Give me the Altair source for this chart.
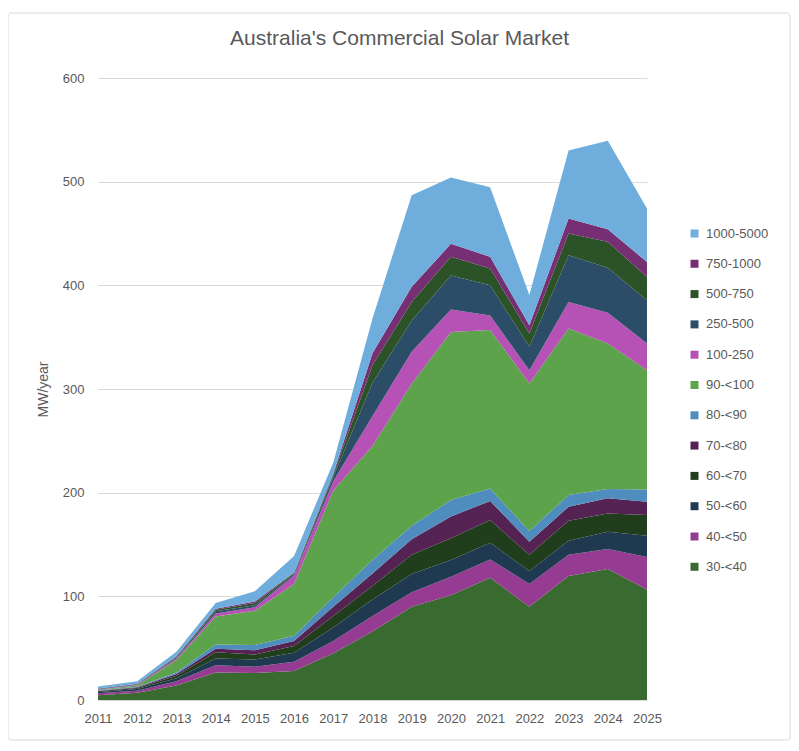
import pandas as pd
import altair as alt

# data, MW/year per system size band (kW)
years = list(range(2011, 2026))

s30_40 = [4.5, 7, 14, 26.5, 26, 28, 45, 66, 90, 101, 118, 90, 119.6, 126.3, 106.7]
s40_50 = [2, 2, 4, 7, 6, 9, 12, 15, 14, 18, 17.6, 22, 20.4, 19.3, 31.3]
s50_60 = [1.2, 1.5, 3, 6.5, 7, 8.6, 13, 16, 17.5, 16, 16, 12.4, 13.6, 16.7, 20.4]
s60_70 = [0.8, 1, 2.5, 6, 5, 6.4, 11, 13, 18.5, 21, 22, 15.6, 19.4, 17.7, 20]
s70_80 = [0.5, 0.7, 1.5, 3.5, 4, 5, 9, 12, 15, 21, 18.4, 12.7, 13.4, 14.5, 12.8]
s80_90 = [0.4, 0.6, 1.5, 4, 5, 5, 9, 13, 13, 16, 12, 10.3, 11.3, 9, 11.8]
s90_100 = [0.5, 1.2, 12, 27, 33, 50, 103, 110, 137, 162, 153, 142.4, 160.7, 140.5, 115]
s100_250 = [0.5, 0.6, 1.5, 3, 3.5, 8, 9, 29, 31, 21.7, 14, 12.6, 25.6, 29.5, 26]
s250_500 = [0.4, 0.5, 1, 2, 2, 1.5, 4, 32, 30, 32.8, 29, 22.7, 45, 43.5, 41.7]
s500_750 = [0.2, 0.3, 0.7, 1.5, 2, 1, 2, 17, 18, 18, 16.3, 12.9, 21, 25, 22.3]
s750_1000 = [0.2, 0.3, 0.5, 1, 1.5, 0.5, 1.5, 11.5, 14.6, 12.5, 11.2, 8, 14.5, 12, 14.6]
s1000_5000 = [1.8, 2.5, 4.3, 5.5, 10, 16, 10.5, 33.5, 88.4, 64, 67, 29, 65.5, 85.5, 51.4]

# bottom of the stack first
bands = ["30-<40", "40-<50", "50-<60", "60-<70", "70-<80", "80-<90",
         "90-<100", "100-250", "250-500", "500-750", "750-1000", "1000-5000"]
series = [s30_40, s40_50, s50_60, s60_70, s70_80, s80_90,
          s90_100, s100_250, s250_500, s500_750, s750_1000, s1000_5000]
colors = ["#396A2F", "#953C92", "#1F3A50", "#203D1C", "#552353", "#4E8DBD",
          "#5CA34C", "#B652B5", "#2B4D68", "#2C5327", "#762F72", "#6FAEDC"]

rows = []
for rank, (band, vals) in enumerate(zip(bands, series)):
    for yr, v in zip(years, vals):
        rows.append({"year": yr, "band": band, "mw": v, "rank": rank})
df = pd.DataFrame(rows)

grey = "#595959"
font = "Liberation Sans"

areas = alt.Chart(df).mark_area(opacity=1).encode(
    x=alt.X("year:Q",
            scale=alt.Scale(domain=[2011, 2025], nice=False, zero=False),
            axis=alt.Axis(values=years, format="d", title=None, grid=False,
                          ticks=False, domainColor="#D9D9D9", labelPadding=12,
                          labelOverlap=False, labelFlush=False, labelFontSize=13,
                          labelColor=grey, labelFont=font)),
    y=alt.Y("mw:Q", stack="zero",
            scale=alt.Scale(domain=[0, 600], nice=False),
            axis=alt.Axis(values=[0, 100, 200, 300, 400, 500, 600], title="MW/year",
                          domain=False, ticks=False, gridColor="#D9D9D9",
                          labelPadding=14, labelFontSize=13, labelColor=grey,
                          labelFont=font, titleFont=font, titleFontSize=14,
                          titleFontWeight="normal", titleColor=grey, titlePadding=12)),
    color=alt.Color("band:N",
                    scale=alt.Scale(domain=bands[::-1], range=colors[::-1]),
                    legend=alt.Legend(title=None, orient="none", legendX=590, legendY=149,
                                      symbolType="square", symbolSize=64,
                                      symbolStrokeWidth=0, labelFontSize=13,
                                      labelColor=grey, labelFont=font, labelOffset=5,
                                      rowPadding=16.3, padding=0)),
    order=alt.Order("rank:Q", sort="ascending"),
)

# light border round the whole chart, as in the spreadsheet original
frame = alt.Chart(pd.DataFrame({"a": [0]})).mark_rect(
    fillOpacity=0, stroke="#D9D9D9", strokeWidth=1, cornerRadius=3
).encode(x=alt.value(-90), x2=alt.value(692), y=alt.value(-65), y2=alt.value(662))

chart = alt.layer(frame, areas).properties(
    width=549,
    height=622,
    title=alt.Title("Australia's Commercial Solar Market", fontSize=21, frame="group",
                    font=font, fontWeight="normal", color=grey, offset=-36, dx=27),
    autosize=alt.AutoSizeParams(type="none"),
    padding={"left": 90, "top": 70, "right": 144, "bottom": 43},
).configure_view(stroke=None)

chart.save("out.html", embed_options={"renderer": "svg", "actions": False})
